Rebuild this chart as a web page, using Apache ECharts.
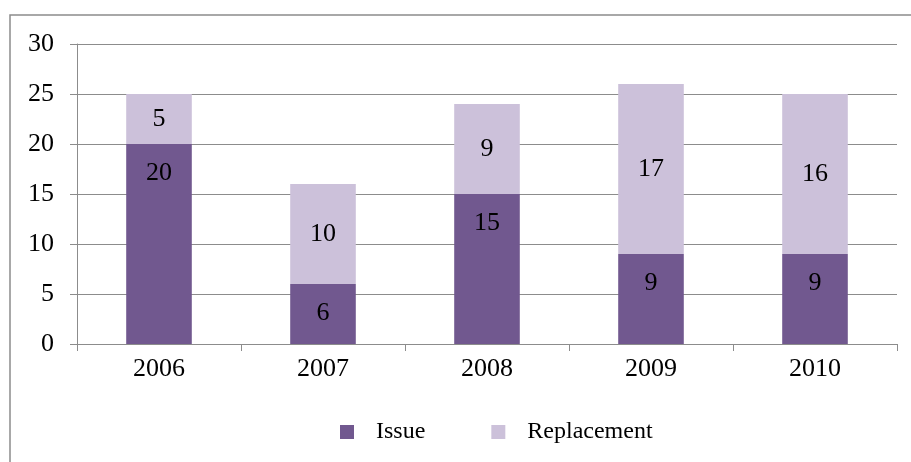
<!DOCTYPE html>
<html>
<head>
<meta charset="utf-8">
<script src="https://cdn.jsdelivr.net/npm/echarts@6/dist/echarts.min.js"></script>
<style>
html,body{margin:0;padding:0;background:#fff;}
#chart{width:911px;height:462px;}
</style>
</head>
<body>
<div id="chart"></div>
<script>
const categories = ['2006', '2007', '2008', '2009', '2010'];
const issue = [20, 6, 15, 9, 9];
const replacement = [5, 10, 9, 17, 16];
const seriesNames = ['Issue', 'Replacement'];
const yTicks = [0, 5, 10, 15, 20, 25, 30];

const FONT = "'Liberation Serif', 'Times New Roman', serif";
const chart = echarts.init(document.getElementById('chart'), null, {renderer: 'canvas'});
const baseLabel = {show: true, color: '#000', fontFamily: FONT, fontSize: 26};
chart.setOption({
  animation: false,
  backgroundColor: '#fff',
  graphic: [{
    type: 'rect', shape: {x: 10, y: 15, width: 920, height: 470},
    style: {fill: 'none', stroke: '#8c8c8c', lineWidth: 1.5}, silent: true, z: -1
  }],
  grid: {left: 77, right: 14, top: 44, bottom: 118, containLabel: false},
  legend: {
    data: seriesNames,
    left: 335, top: 415,
    icon: 'rect', itemWidth: 14, itemHeight: 14, itemGap: 66,
    textStyle: {fontFamily: FONT, fontSize: 24, color: '#000', padding: [0, 0, 0, 17]}
  },
  xAxis: {
    type: 'category', data: categories,
    axisLine: {lineStyle: {color: '#8c8c8c', width: 1}},
    axisTick: {show: true, length: 7, alignWithLabel: false, lineStyle: {color: '#8c8c8c'}},
    axisLabel: {color: '#000', fontFamily: FONT, fontSize: 26, margin: 12}
  },
  yAxis: {
    type: 'value', min: yTicks[0], max: yTicks[yTicks.length - 1], interval: 5,
    axisLine: {show: true, lineStyle: {color: '#8c8c8c', width: 1}},
    axisTick: {show: true, length: 7, lineStyle: {color: '#8c8c8c'}},
    splitLine: {show: true, lineStyle: {color: '#8c8c8c', width: 1}},
    axisLabel: {color: '#000', fontFamily: FONT, fontSize: 26, margin: 23}
  },
  series: [
    {name: seriesNames[0], type: 'bar', stack: 'a', data: issue, barWidth: '40%',
     itemStyle: {color: '#71588F'},
     label: Object.assign({}, baseLabel, {position: 'insideTop', distance: 16})},
    {name: seriesNames[1], type: 'bar', stack: 'a', data: replacement, barWidth: '40%',
     itemStyle: {color: '#CCC1DA'},
     label: Object.assign({}, baseLabel, {position: 'inside'})}
  ]
});
</script>
</body>
</html>
